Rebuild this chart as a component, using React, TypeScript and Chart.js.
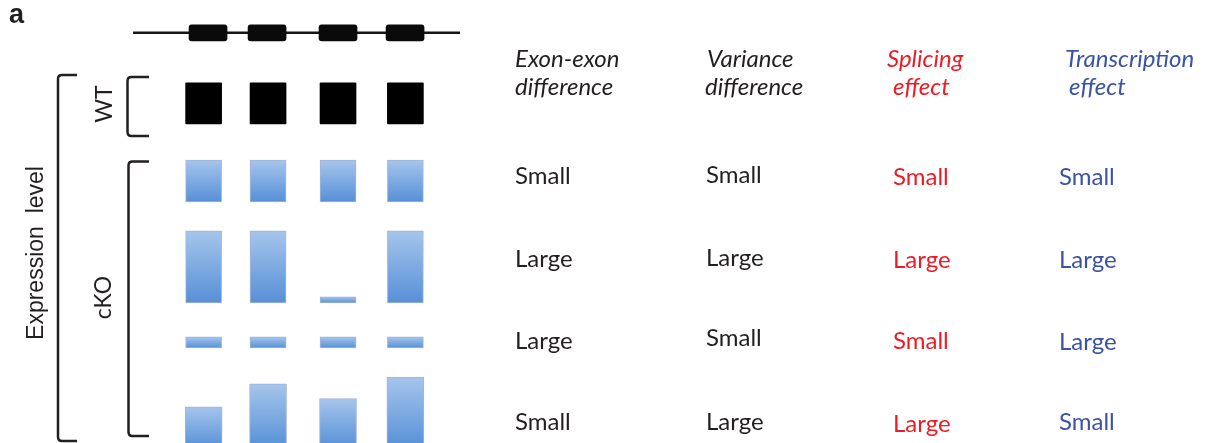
import React, { useEffect, useRef } from 'react';
import { Chart, registerables } from 'chart.js';

Chart.register(...registerables);

// ---------- data ----------
const exonLabels = ['Exon 1', 'Exon 2', 'Exon 3', 'Exon 4'];
// gene model (schematic gene coordinates, 0-100)
const geneStart = 0;
const geneEnd = 100;
const exonStart = [17.1, 35.2, 56.9, 77.4];
const exonEnd = [28.8, 46.8, 68.5, 89.0];
// lane centres of the expression bars (gene coordinates)
const laneCenters = [21.6, 41.3, 62.7, 83.3];

// expression levels (WT = 1)
const wtLevels = [1.0, 1.0, 1.0, 1.0];
const cko1Levels = [1.02, 1.02, 1.02, 1.02];
const cko2Levels = [1.76, 1.76, 0.15, 1.76];
const cko3Levels = [0.27, 0.27, 0.27, 0.27];
const cko4Levels = [1.0, 1.56, 1.2, 1.73];

// table
const headerExon = ['Exon-exon', 'difference'];
const headerVariance = ['Variance', 'difference'];
const headerSplicing = ['Splicing', 'effect'];
const headerTranscription = ['Transcription', 'effect'];
const exonExonDiff = ['Small', 'Large', 'Large', 'Small'];
const varianceDiff = ['Small', 'Large', 'Small', 'Large'];
const splicingEffect = ['Small', 'Large', 'Small', 'Large'];
const transcriptionEffect = ['Small', 'Large', 'Large', 'Small'];

// ---------- layout (not data) ----------
const W = 1209;
const H = 443;
const GENE_Y = 10.0;
const EXON_HALF = 0.195;
const WT_BASE = 7.78;
const CKO_BASES = [5.88, 3.415, 2.317, -0.12];

const BLACK = '#231F20';
const RED = '#ED1C24';
const BLUE = '#3A53A4';
const BODY_FONT = '24px Lato, "Open Sans", sans-serif';
const HEAD_FONT = 'italic 24px Lato, "Open Sans", sans-serif';

const colX = [515, 706, 893, 1059];
const headX1 = [515, 707, 887, 1065];
const headX2 = [515, 705, 893, 1069];
const headY = [67, 95];
const rowY = [
  [184, 183, 185, 185],
  [267, 266, 268, 268],
  [349, 346, 349, 350],
  [430, 430, 432, 430],
];

const blueGradient = (ctx: any) => {
  const chart = ctx.chart;
  const raw = ctx.raw;
  if (!raw || !chart.scales || !chart.scales.y) return '#7DAAE0';
  const y = chart.scales.y;
  const top = y.getPixelForValue(raw.y[1]);
  const bot = y.getPixelForValue(raw.y[0]);
  if (!isFinite(top) || !isFinite(bot) || top === bot) return '#7DAAE0';
  const g = chart.ctx.createLinearGradient(0, top, 0, bot);
  g.addColorStop(0, '#A6C5EC');
  g.addColorStop(1, '#5690D7');
  return g;
};

const annotPlugin = {
  id: 'annot',
  afterDraw(chart: any) {
    const c: CanvasRenderingContext2D = chart.ctx;
    c.save();
    c.fillStyle = BLACK;
    c.strokeStyle = BLACK;
    c.textAlign = 'left';
    c.textBaseline = 'alphabetic';

    // panel letter
    c.font = 'bold 27px "Liberation Sans", Arial, sans-serif';
    c.fillText('a', 9, 23);

    // brackets
    const bracket = (x: number, top: number, bottom: number, tick: number, r: number) => {
      c.beginPath();
      c.moveTo(tick, top);
      c.lineTo(x + r, top);
      c.quadraticCurveTo(x, top, x, top + r);
      c.lineTo(x, bottom - r);
      c.quadraticCurveTo(x, bottom, x + r, bottom);
      c.lineTo(tick, bottom);
      c.stroke();
    };
    c.lineWidth = 2.5;
    c.lineCap = 'butt';
    bracket(58, 75, 441, 77, 4);
    bracket(127.5, 77, 136, 149, 4);
    bracket(128.5, 161.5, 436, 149, 4);

    // rotated labels
    const rot = (txt: string, x: number, y: number, font: string) => {
      c.save();
      c.translate(x, y);
      c.rotate(-Math.PI / 2);
      c.font = font;
      c.textAlign = 'center';
      c.textBaseline = 'alphabetic';
      c.fillText(txt, 0, 0);
      c.restore();
    };
    rot('Expression  level', 43, 253, '23px "Liberation Sans", Arial, sans-serif');
    rot('WT', 112, 104, '23px Lato, "Open Sans", sans-serif');
    rot('cKO', 110.5, 297.5, '23px Lato, "Open Sans", sans-serif');

    // headers
    const headers = [headerExon, headerVariance, headerSplicing, headerTranscription];
    const colColors = [BLACK, BLACK, RED, BLUE];
    c.font = HEAD_FONT;
    headers.forEach((h, i) => {
      c.fillStyle = colColors[i];
      c.fillText(h[0], headX1[i], headY[0]);
      c.fillText(h[1], headX2[i], headY[1]);
    });

    // body
    const cols = [exonExonDiff, varianceDiff, splicingEffect, transcriptionEffect];
    c.font = BODY_FONT;
    cols.forEach((col, i) => {
      c.fillStyle = colColors[i];
      col.forEach((v, r) => c.fillText(v, colX[i], rowY[r][i]));
    });
    c.restore();
  },
};

export default function App() {
  const ref = useRef<HTMLCanvasElement | null>(null);
  useEffect(() => {
    if (!ref.current) return;
    const floating = (levels: number[], base: number) =>
      levels.map((v, i) => ({ x: laneCenters[i], y: [base, base + v] }));
    const ckoDataset = (levels: number[], base: number, label: string, thick: number) => ({
      type: 'bar' as const,
      label,
      data: floating(levels, base),
      backgroundColor: blueGradient,
      borderColor: 'rgba(84,122,178,0.55)',
      borderWidth: 1,
      borderSkipped: false,
      barThickness: thick,
      grouped: false,
      order: 1,
    });
    const chart = new Chart(ref.current, {
      type: 'bar',
      data: {
        datasets: [
          {
            type: 'line',
            label: 'gene',
            data: [
              { x: geneStart, y: GENE_Y },
              { x: geneEnd, y: GENE_Y },
            ],
            borderColor: '#151515',
            borderWidth: 2.5,
            pointRadius: 0,
            order: 5,
          } as any,
          {
            type: 'bar',
            label: 'exons',
            data: exonStart.map((s, i) => ({
              x: (s + exonEnd[i]) / 2,
              y: [GENE_Y - EXON_HALF, GENE_Y + EXON_HALF],
              name: exonLabels[i],
            })),
            backgroundColor: '#0a0a0a',
            borderWidth: 0,
            borderRadius: 3,
            borderSkipped: false,
            barThickness: 38,
            grouped: false,
            order: 1,
          } as any,
          {
            type: 'bar',
            label: 'WT',
            data: floating(wtLevels, WT_BASE),
            backgroundColor: '#000000',
            borderWidth: 0,
            borderRadius: 1,
            borderSkipped: false,
            barThickness: 36,
            grouped: false,
            order: 1,
          } as any,
          ckoDataset(cko1Levels, CKO_BASES[0], 'cKO 1', 36) as any,
          ckoDataset(cko2Levels, CKO_BASES[1], 'cKO 2', 36) as any,
          ckoDataset(cko3Levels, CKO_BASES[2], 'cKO 3', 36) as any,
          ckoDataset(cko4Levels, CKO_BASES[3], 'cKO 4', 37) as any,
        ],
      },
      options: {
        animation: false,
        responsive: false,
        events: [],
        layout: { padding: 0 },
        plugins: { legend: { display: false }, tooltip: { enabled: false } },
        scales: {
          x: { type: 'linear', min: -40.67, max: 329.05, display: false, offset: false },
          y: { type: 'linear', min: 0, max: 10.8, display: false },
        },
      },
      plugins: [annotPlugin],
    } as any);
    return () => chart.destroy();
  }, []);
  return (
    <div style={{ position: 'absolute', left: 0, top: 0, width: W, height: H, background: '#fff' }}>
      <canvas ref={ref} width={W} height={H} style={{ display: 'block', width: W, height: H }} />
    </div>
  );
}
